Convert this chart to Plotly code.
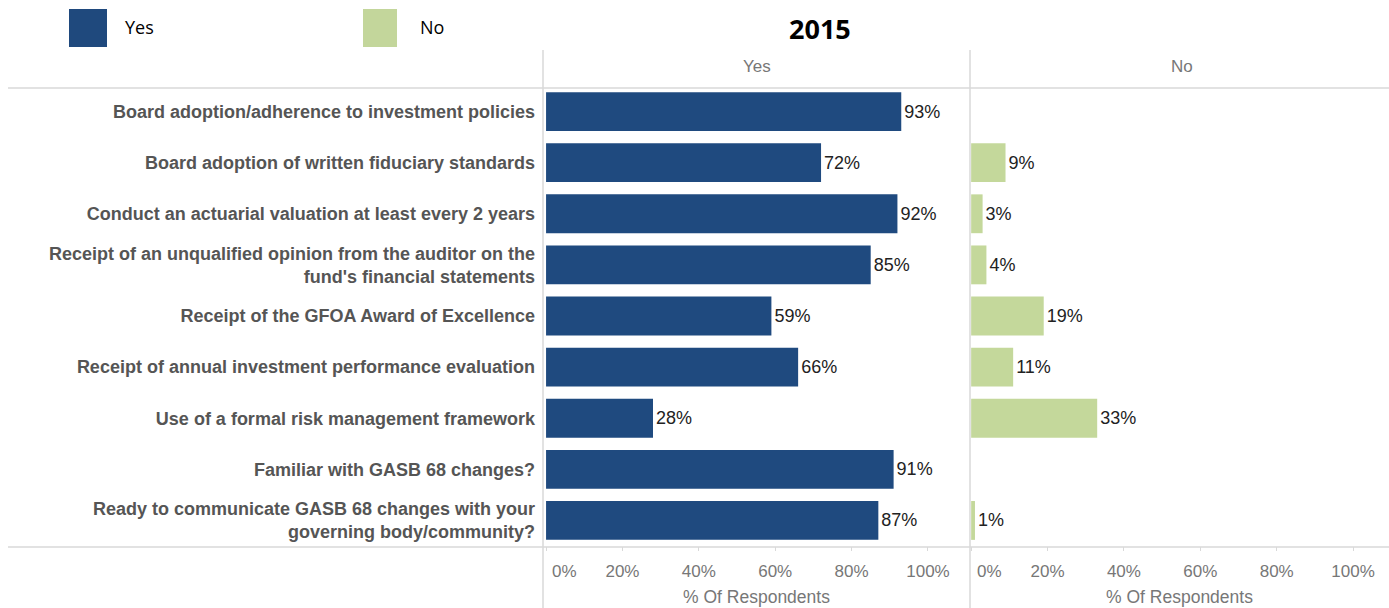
import plotly.graph_objects as go

# Survey items (top to bottom) and share of respondents, in percent
categories = [
    "Board adoption/adherence to investment policies",
    "Board adoption of written fiduciary standards",
    "Conduct an actuarial valuation at least every 2 years",
    "Receipt of an unqualified opinion from the auditor on the<br>fund's financial statements",
    "Receipt of the GFOA Award of Excellence",
    "Receipt of annual investment performance evaluation",
    "Use of a formal risk management framework",
    "Familiar with GASB 68 changes?",
    "Ready to communicate GASB 68 changes with your<br>governing body/community?",
]
yes_pct = [93, 72, 92, 85, 59, 66, 28, 91, 87]
no_pct = [None, 9, 3, 4, 19, 11, 33, None, 1]
tick_vals = [0, 20, 40, 60, 80, 100]
tick_text = ["0%", "20%", "40%", "60%", "80%", "100%"]

W, H = 1389, 608
TOP, BOTTOM = 86, 62
PH = H - TOP - BOTTOM
BLUE = "#1f4a7f"
GREEN = "#c4d89b"
LINE = "#d9d9d9"
SANS = "Liberation Sans, Arial"
TICK_FONT = dict(family=SANS, size=17, color="#777")

fig = go.Figure()
fig.add_trace(go.Bar(
    y=categories, x=yes_pct, orientation="h", xaxis="x", yaxis="y",
    marker=dict(color=BLUE, line=dict(width=0)), width=0.76,
    text=[f"{v}%" for v in yes_pct], textposition="outside",
    textfont=dict(family=SANS, size=18, color="#222"),
    cliponaxis=False, showlegend=False,
))
fig.add_trace(go.Bar(
    y=categories, x=no_pct, orientation="h", xaxis="x2", yaxis="y",
    marker=dict(color=GREEN, line=dict(width=0)), width=0.76,
    text=[f"{v}%" if v is not None else "" for v in no_pct], textposition="outside",
    textfont=dict(family=SANS, size=18, color="#222"),
    cliponaxis=False, showlegend=False,
))

x1l, x1r = 543 / W, 970 / W
x2l, x2r = 970 / W, 1.0

# The zero label is drawn separately, nudged right so it clears the panel divider
axis_common = dict(
    tickvals=tick_vals, ticktext=[""] + tick_text[1:], showgrid=False, zeroline=False,
    ticks="outside", ticklen=4, tickcolor=LINE, showline=False, automargin=False,
    ticklabelstandoff=6, tickfont=TICK_FONT,
    title=dict(text="% Of Respondents", standoff=10,
               font=dict(family=SANS, size=17.5, color="#777")),
)
fig.update_layout(
    width=W, height=H, margin=dict(l=0, r=0, t=TOP, b=BOTTOM, autoexpand=False),
    paper_bgcolor="white", plot_bgcolor="white",
    xaxis=dict(domain=[x1l, x1r], range=[-0.8, 111], anchor="y", **axis_common),
    xaxis2=dict(domain=[x2l, x2r], range=[-0.3, 109.4], anchor="y", **axis_common),
    yaxis=dict(autorange="reversed", showgrid=False, zeroline=False, ticks="",
               automargin=False, ticklabelstandoff=7,
               tickfont=dict(family=SANS, size=18, color="#555", weight="bold")),
)

def py(y):
    """Pixel row from the top of the page -> paper y coordinate."""
    return 1 + (TOP - y) / PH

for xr in ("x", "x2"):
    fig.add_annotation(text=tick_text[0], xref=xr, yref="paper", x=tick_vals[0], y=py(571),
                       xanchor="left", yanchor="middle", xshift=4, showarrow=False,
                       font=TICK_FONT)

# Panel frame lines
shapes = [
    dict(type="line", xref="paper", yref="paper", x0=8 / W, x1=1, y0=py(88), y1=py(88),
         line=dict(color=LINE, width=1.5)),
    dict(type="line", xref="paper", yref="paper", x0=8 / W, x1=1, y0=py(547), y1=py(547),
         line=dict(color=LINE, width=1.5)),
    dict(type="line", xref="paper", yref="paper", x0=x1l, x1=x1l, y0=py(608), y1=py(50),
         line=dict(color=LINE, width=1.5)),
    dict(type="line", xref="paper", yref="paper", x0=x1r, x1=x1r, y0=py(608), y1=py(50),
         line=dict(color=LINE, width=1.5)),
]
# Legend swatches
shapes += [
    dict(type="rect", xref="paper", yref="paper", x0=69 / W, x1=107 / W,
         y0=py(47), y1=py(9), fillcolor="#1f497d", line=dict(width=0)),
    dict(type="rect", xref="paper", yref="paper", x0=363 / W, x1=397 / W,
         y0=py(47), y1=py(9), fillcolor="#c3d69b", line=dict(width=0)),
]
fig.update_layout(shapes=shapes)

def ann(text, x, y, size, color, bold=False, family="Open Sans, Liberation Sans", xanchor="center"):
    fig.add_annotation(text=f"<b>{text}</b>" if bold else text, xref="paper", yref="paper",
                       x=x / W, y=py(y), xanchor=xanchor, yanchor="middle",
                       showarrow=False, font=dict(family=family, size=size, color=color))

ann("2015", 820, 28, 27, "#000", bold=True)
ann("Yes", 123, 27, 18, "#000", xanchor="left")
ann("No", 418, 27, 18, "#000", xanchor="left")
ann("Yes", 757, 66, 17, "#777", family=SANS)
ann("No", 1182, 66, 17, "#777", family=SANS)

fig.write_html("out.html")
